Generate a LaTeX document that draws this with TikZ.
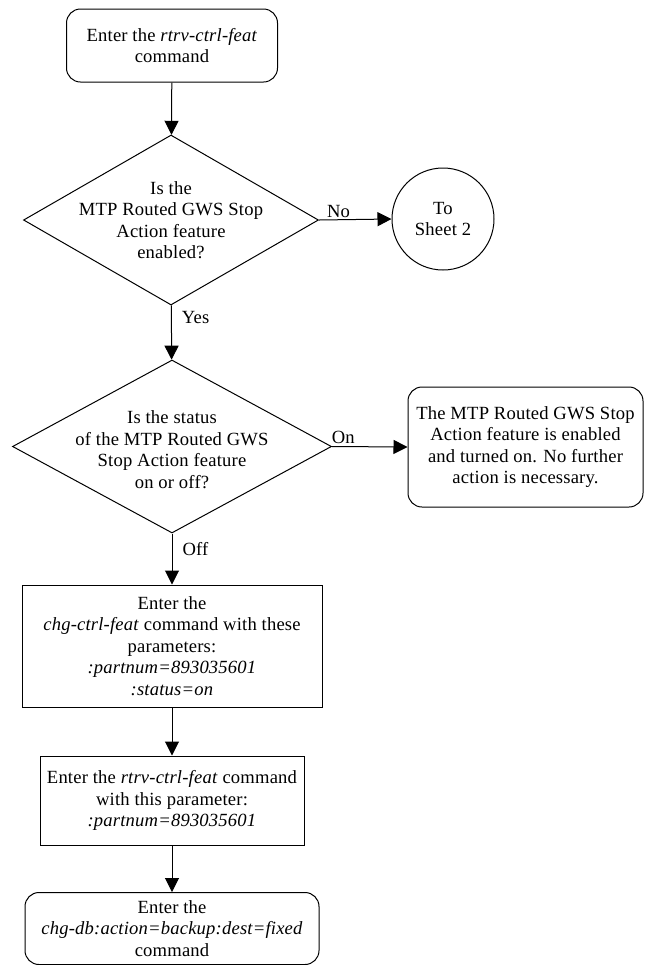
\documentclass[tikz,border=0pt]{standalone}
\usepackage{fontspec}
\setmainfont[LetterSpace=1]{Liberation Serif}
\usepackage{tikz}
\usetikzlibrary{arrows.meta,shapes.geometric}

\begin{document}
\begin{tikzpicture}[x=0.5pt,y=-0.5pt,line width=0.5pt,
    txt/.style={font=\fontsize{9.3}{10.75}\selectfont,align=center},
    term/.style={draw,rounded corners=7pt,inner sep=0pt,txt},
    proc/.style={draw,inner sep=0pt,txt},
    decision/.style={draw,diamond,inner sep=0pt},
    conn/.style={draw,circle,inner sep=0pt,minimum size=51pt,txt},
    lbl/.style={txt,inner sep=1pt},
    flow/.style={-{Triangle[length=7pt,width=7pt]}}]
  \useasboundingbox (0,0) rectangle (644,965);
  % main column
  \node[term,minimum width=105.5pt,minimum height=36.5pt] (start) at (172,45.5)
    {Enter the \textit{rtrv-ctrl-feat}\\command};
  \node[decision,minimum width=147.5pt,minimum height=85pt,
    label={[txt]center:Is the\\MTP Routed GWS Stop\\Action feature\\enabled?}] (enabled) at (171,220) {};
  \node[conn] (sheettwo) at (443,219) {To\\Sheet 2};
  \node[decision,minimum width=159.5pt,minimum height=86.5pt,
    label={[txt,yshift=-1.5pt]center:Is the status\\of the MTP Routed GWS\\Stop Action feature\\on or off?}] (status) at (172,446.5) {};
  \node[term,minimum width=117.5pt,minimum height=60pt] (done) at (525.5,447)
    {The MTP Routed GWS Stop\\Action feature is enabled\\and turned on. No further\\action is necessary.};
  \node[proc,minimum width=150pt,minimum height=61pt] (chgfeat) at (172,646)
    {Enter the\\\textit{chg-ctrl-feat} command with these\\parameters:\\\textit{:partnum=893035601}\\\textit{:status=on}};
  \node[proc,minimum width=132pt,minimum height=44.5pt] (rtrvfeat) at (172,800.5)
    {Enter the \textit{rtrv-ctrl-feat} command\\with this parameter:\\\textit{:partnum=893035601}};
  \node[term,minimum width=147pt,minimum height=36pt] (chgdb) at (172,928.5)
    {Enter the\\\textit{chg-db:action=backup:dest=fixed}\\command};
  % connectors
  \draw[flow] (start) -- (enabled);
  \draw[flow] (enabled.east) -- (sheettwo.west)
    node[lbl,pos=0.27,above] (nolbl) {No};
  \draw[flow] (enabled) -- (status)
    node[lbl,pos=0.22,right=4pt] (yeslbl) {Yes};
  \draw[flow] (status.east) -- (done.west)
    node[lbl,pos=0.15,above] (onlbl) {On};
  \draw[flow] (status) -- (chgfeat)
    node[lbl,pos=0.3,right=4pt] (offlbl) {Off};
  \draw[flow] (chgfeat) -- (rtrvfeat);
  \draw[flow] (rtrvfeat) -- (chgdb);
\end{tikzpicture}
\end{document}
